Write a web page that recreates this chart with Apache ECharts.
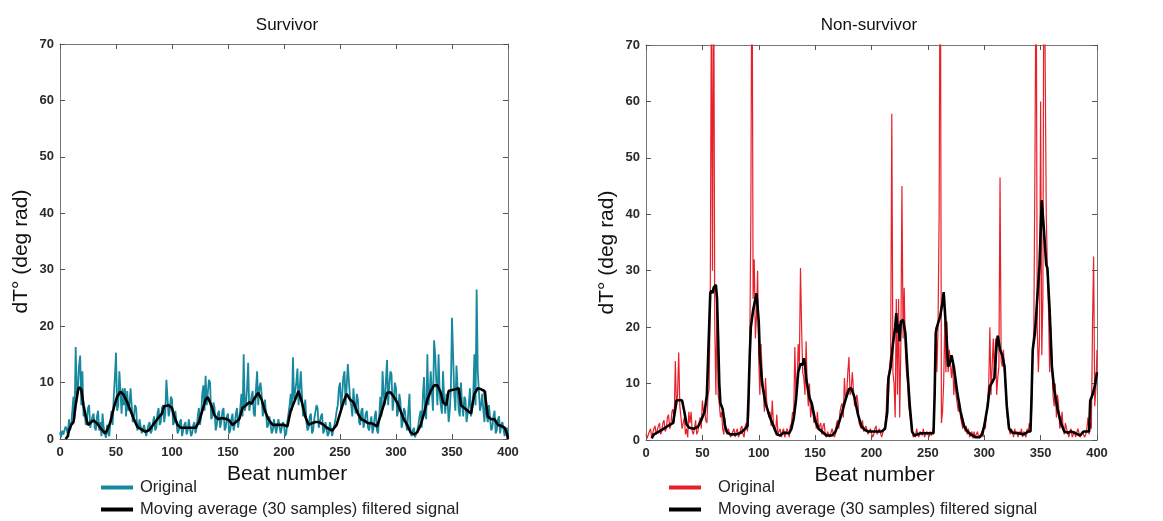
<!DOCTYPE html>
<html>
<head>
<meta charset="utf-8">
<script src="https://cdn.jsdelivr.net/npm/echarts@6/dist/echarts.min.js"></script>
<style>
html,body{margin:0;padding:0;background:#fff;}
#c{width:1163px;height:521px;}
</style>
</head>
<body>
<div id="c"></div>
<script>
// ---- Data ----
const xTicks = [0, 50, 100, 150, 200, 250, 300, 350, 400];
const yTicks = [0, 10, 20, 30, 40, 50, 60, 70];
const titles = ['Survivor', 'Non-survivor'];
const legendNames = ['Original', 'Moving average (30 samples) filtered signal'];

// Survivor - original signal, one value per beat (0..400)
const survOrig = [
  1.2, 0.3, 1.5, 0.8, 0.5, 2.2, 1.8, 0.6, 3.5, 1.5,
  2.5, 5, 7.5, 3.5, 16.3, 8, 9, 13, 14.8, 6,
  12, 4, 5, 2.5, 3.5, 5.5, 6, 2, 2, 4,
  4.5, 2, 1.5, 4, 5, 1.5, 3, 0.5, 4.5, 2,
  1, 0.2, 2.5, 1, 0.5, 3, 5, 2.5, 7.5, 11,
  15.3, 5, 6, 12, 12, 4.5, 9, 6, 9, 4,
  8.5, 5, 6, 9, 9, 3, 4, 6, 5.5, 1.5,
  2, 3.5, 3.5, 1, 1, 2.5, 2.5, 0.5, 0.5, 2.5,
  3, 1, 1.5, 3, 4, 1.5, 2, 4.5, 5.5, 2.5,
  3, 5.5, 6, 3, 4.5, 10.5, 10.5, 4, 5, 7.5,
  7, 2.5, 3, 5, 5, 1, 1.5, 3, 3.5, 0.5,
  0.5, 2.5, 3, 0.8, 1.5, 3.5, 3.5, 0.5, 1, 2.5,
  3, 1, 2, 4, 5.5, 2.5, 4, 8, 9.5, 5,
  11.2, 6, 6, 10.5, 10, 3.5, 4, 6.5, 5.5, 1.5,
  2.5, 4.5, 5, 2, 3, 5, 5.5, 1.5, 2, 4,
  4.5, 1, 1.5, 3.5, 4.5, 1.5, 2.5, 4.5, 5.5, 2,
  3.5, 5.5, 8, 4, 15, 5, 6, 9, 13.5, 5,
  5, 7.5, 8.5, 4.5, 4, 9, 12, 6, 9, 10,
  8, 4, 5, 7, 4.5, 2, 2.5, 4, 4, 1,
  1.5, 3.5, 3.5, 1, 1, 3.5, 3.5, 1, 2, 3,
  2.5, 0.5, 1, 3, 4.5, 6, 8, 5, 14.5, 7,
  7, 10, 12.5, 6, 9, 12, 12, 4, 5, 7,
  3, 1.5, 2, 4, 4.5, 1, 1.5, 3.5, 3.5, 6,
  5.5, 2, 2, 4, 4.5, 1, 1.5, 3, 3, 0.5,
  1, 3, 3, 0.5, 0.5, 2.5, 3.5, 5, 6, 9,
  10, 5, 8, 11, 12, 6, 9.5, 13.3, 13.3, 7,
  6, 4, 9, 6, 4.5, 8, 7, 3, 2.5, 5,
  5.5, 2, 3, 4.5, 5, 2, 1.5, 3, 4, 1,
  2, 4, 5, 1.5, 1, 4, 7.5, 4, 12, 8,
  6, 10.5, 14, 6, 9.5, 12, 11.5, 5, 7, 10,
  9, 4, 5, 8, 6.5, 2, 3, 5.5, 5, 2.5,
  1.5, 5, 8, 1, 0.5, 1.5, 2, 0.3, 0.5, 1.5,
  2.5, 4, 5, 2, 7.5, 11, 5, 3.5, 15, 6,
  8, 12, 12, 5, 17.5, 15, 10, 6, 15, 8,
  6, 4.5, 12, 7, 4.5, 8, 7, 3, 5, 9,
  21.5, 21.5, 8, 5, 13, 9, 5, 4, 10, 6,
  4, 7.5, 7, 3, 3, 6, 9, 4, 5.5, 8,
  15, 6, 26.5, 12, 12, 5, 6, 8, 5, 3,
  8.5, 4, 3, 6, 6, 1.5, 2, 4, 5, 1,
  1.5, 3.5, 4, 1, 2.5, 3, 3, 0.5, 1.5, 2,
  0.5
];

// Survivor - moving average (beat, value)
const survMaX = [5,7,8,10,12,14,16,17,19,21,23,25,28,30,33,36,40,42,45,48,51,54,57,60,63,66,69,72,76,79,82,85,88,91,93,97,100,102,105,108,112,118,121,124,127,130,132,135,138,141,144,148,151,154,157,160,163,166,169,171,173,177,180,183,186,190,195,200,203,206,210,213,216,219,222,225,228,231,234,237,240,243,247,250,253,256,259,262,264,266,269,272,275,278,281,283,286,289,292,295,298,301,304,307,310,313,316,319,322,325,328,331,334,337,340,342,345,347,350,353,356,358,361,364,367,370,373,376,379,382,385,388,391,394,397,399,400];
const survMaY = [0,0.5,1.5,2.5,3,6,8.5,9.2,8.8,6,4,2.5,3,3.3,2.8,2,1,1.5,3,5.5,7.5,8.4,7.8,6.5,5,3.5,2.2,1.8,1.3,1.5,2.2,3,3.8,4.5,5.8,6,5.5,4,2.5,2,2,2,2,3,5,7,7.4,6,4.2,3.5,3.7,3.6,3.3,2.5,3,3.5,5.5,6,6.5,6.2,7,8.2,7,5,3.5,2.5,2.5,2.5,2.2,5,7,8.5,6.5,4,2.5,2.8,3,3,2.7,2.2,1.8,1.5,2.5,4.5,6.5,8,7,6.5,5.5,4.5,3.5,3.2,2.8,2.8,2.5,2.2,4,6,8.2,8.3,7.5,6.5,5,3.5,2.5,1.2,0.8,1.2,2.5,4.5,7,8.5,9.5,9.5,8.2,6.5,6,8.5,8.7,8.8,9,6,5.5,5,4.5,8,9,8.8,8.5,4,3.5,3.5,2.5,2.3,2,1,0];

// Non-survivor - original signal, one value per beat (0..400); values above 70 run off the top
const nonOrig = [
  1, 0.3, 0.5, 1.5, 2, 0.5, 0.8, 2, 2.5, 1,
  1.2, 2.5, 3, 1, 1.5, 3, 3.5, 1.5, 2, 4,
  4.5, 2, 2.5, 5, 5.5, 3, 14, 6, 8, 15.5,
  6, 4, 2, 3, 4, 1, 2, 0.5, 5, 3,
  5, 1.5, 1, 2, 3.5, 1, 1.5, 3, 4, 2,
  7, 5, 5.5, 3.5, 3, 8, 9, 25, 80, 30,
  90, 20, 8, 26, 8, 6.5, 4, 5, 2, 1,
  4, 1.5, 1, 2, 2, 0.5, 0.5, 1.5, 2, 0.5,
  1.5, 2, 0.5, 1, 2, 2.5, 1, 0.5, 2.5, 3,
  1.5, 4, 15, 40, 95, 25, 32, 18, 22, 30,
  14, 8, 17, 12, 9, 5, 11, 7, 5, 4,
  5, 2.5, 7, 3, 3, 1.5, 4.5, 1, 1.5, 2,
  0.5, 1.5, 2, 0.5, 1, 2, 1.5, 0.5, 2.5, 3,
  5, 4, 16.5, 8, 10, 17, 13, 30.5, 20, 12,
  11, 8, 17.5, 9, 6, 10, 4, 6, 5, 3,
  4, 2, 5, 2, 2, 3, 1, 2.5, 3, 1,
  0.5, 1.5, 1.5, 0.5, 0.5, 2, 2, 0.5, 1, 3,
  3.5, 2, 5, 6, 6.5, 4, 11, 7, 8, 12,
  14.7, 8, 9, 12, 12, 6, 6, 8, 6.5, 3,
  3, 2, 3.5, 1.5, 1.5, 2.5, 2.5, 1, 1, 2,
  2, 0.5, 1, 2, 2.5, 1, 1.5, 2, 2, 0.5,
  0.5, 2, 2.5, 5, 10, 8, 13, 15, 57.8, 12,
  10, 4, 25, 8, 25, 4, 16, 45, 18, 27,
  16, 12, 10, 6, 6, 3, 2, 0.5, 1, 0.5,
  2, 1, 0.5, 1.5, 1.5, 0.8, 2, 0.5, 1, 1.5,
  1.5, 0.5, 1.5, 0.8, 0.5, 2, 8, 20, 12, 20,
  40, 100, 3, 5, 10, 21, 12, 21, 12, 16,
  16, 11, 14, 8, 11, 8, 6.5, 5, 6.5, 4,
  4, 2, 3, 1.5, 2.5, 1, 2, 0.5, 1, 1.5,
  0.3, 1.5, 0.5, 0.3, 1.5, 0.5, 0.3, 1, 1.5, 0.5,
  3, 2, 5, 7, 10, 20, 8, 13, 18, 11,
  18, 8, 11, 13, 46.5, 14, 13, 16, 12, 9,
  5, 3, 3, 1, 2, 1.5, 0.5, 2, 1, 1.5,
  0.5, 1.5, 1, 2, 0.5, 1.5, 1, 0.5, 2, 1.5,
  3, 2, 5, 15, 20, 50, 90, 20, 12, 18,
  60, 15, 25, 95, 95, 40, 30, 23, 12, 20,
  20, 8, 6, 10, 4, 8, 6, 2, 3, 5,
  2, 1, 3, 2, 2, 0.5, 1.5, 2, 0.5, 1,
  1.5, 0.5, 0.3, 2, 2, 0.5, 0.5, 1.5, 1.5, 0.5,
  1, 2, 4, 1, 3, 2, 20, 32.5, 6, 9,
  16
];

// Non-survivor - moving average (beat, value)
const nonMaX = [5,7,10,14,18,22,24,26,27,30,32,34,36,38,42,46,49,52,54,55,56,57,58,59,60,62,63,64,65,66,68,69,70,72,75,80,84,88,90,91,92,93,95,98,99,100,101,103,106,110,113,116,119,122,127,129,131,133,135,137,139,140,141,142,145,147,150,153,156,160,165,168,171,174,177,180,182,185,188,191,194,197,200,203,206,209,212,214,215,217,219,221,222,223,224,225,226,228,230,232,234,236,238,241,244,248,252,255,256,257,258,261,263,264,266,268,270,271,273,276,279,282,285,288,292,296,298,300,303,305,307,309,311,312,314,316,318,320,322,325,330,335,339,341,342,343,345,347,349,351,353,355,356,358,360,362,365,368,371,374,377,380,383,385,388,391,393,394,396,398,400];
const nonMaY = [0.3,1,1.3,1.8,2.3,2.8,3,5.5,7,7.1,7,5,2.8,2.2,2,2.3,3.5,5,8,14,20,26,26.5,26,27,27.5,25,18,10,6.5,5.5,4,2.5,1.3,1,1,1.3,2,2.5,8,15,20,23,26,26,21,15,10,6.5,4,2.5,1,0.8,1.3,1.2,2,3.8,7,12,13.5,13.3,14.5,13.5,11,7.5,6.5,3.5,2,1.5,0.8,0.8,1.5,3,5,7.2,9,9.2,7.5,4.5,2.5,1.8,1.5,1.5,1.5,1.5,1.5,2,5,11,13,17,20,22.5,19,20.5,17.5,21,21.3,19,12,6,1.5,0.8,1,1.2,1.2,1.2,1.2,8,19,20,22,24.5,26.2,20,13,14,15,13,8.5,5,2.5,1.5,1,0.5,0.5,1,2.5,6,9.5,10.2,11,17,18.5,16,15,13,6,2,1.3,1.2,1,1.5,1.5,8,16,19,25,31,42.5,37,31,30.5,23,13,9,5.5,3,1.5,1.3,1.5,1.3,1,0.8,1.5,1.5,1.5,7,8,9.5,12];

// ---- Build chart ----
const FONT = '"Liberation Sans", Arial, Helvetica, sans-serif';
const origColors = ['#17899f', '#e8202a'];
const grids = [
  {left: 60, right: 655, top: 44, bottom: 82},
  {left: 646, right: 66, top: 45, bottom: 81}
];
const tickStyle = {show: true, inside: true, length: 5, lineStyle: {color: '#555', width: 1}};
const lineStyleAxis = {show: true, onZero: false, lineStyle: {color: '#777', width: 1}};
const tickLabel = {fontSize: 13, fontWeight: 'bold', color: '#2a2a2a', fontFamily: FONT};

const xAxes = [], yAxes = [];
grids.forEach((g, gi) => {
  xAxes.push({
    type: 'value', gridIndex: gi, position: 'bottom', min: xTicks[0], max: xTicks[xTicks.length - 1],
    interval: xTicks[1] - xTicks[0],
    axisLine: lineStyleAxis, axisTick: tickStyle, splitLine: {show: false},
    axisLabel: Object.assign({margin: 7}, tickLabel),
    name: 'Beat number', nameLocation: 'middle', nameGap: 25,
    nameTextStyle: {fontSize: 21, color: '#111', fontFamily: FONT, padding: [0, 0, 0, 6]}
  });
  xAxes.push({
    type: 'value', gridIndex: gi, position: 'top', min: xTicks[0], max: xTicks[xTicks.length - 1],
    interval: xTicks[1] - xTicks[0],
    axisLine: lineStyleAxis, axisTick: tickStyle, splitLine: {show: false},
    axisLabel: {show: false}
  });
  yAxes.push({
    type: 'value', gridIndex: gi, position: 'left', min: yTicks[0], max: yTicks[yTicks.length - 1],
    interval: yTicks[1] - yTicks[0],
    axisLine: lineStyleAxis, axisTick: tickStyle, splitLine: {show: false},
    axisLabel: Object.assign({margin: 6}, tickLabel),
    name: 'dT° (deg rad)', nameLocation: 'middle', nameGap: 28, nameRotate: 90,
    nameTextStyle: {fontSize: 21, color: '#111', fontFamily: FONT, padding: [0, 20, 0, 0]}
  });
  yAxes.push({
    type: 'value', gridIndex: gi, position: 'right', min: yTicks[0], max: yTicks[yTicks.length - 1],
    interval: yTicks[1] - yTicks[0],
    axisLine: lineStyleAxis, axisTick: tickStyle, splitLine: {show: false},
    axisLabel: {show: false}
  });
});

const origSets = [survOrig, nonOrig];
const maSets = [[survMaX, survMaY], [nonMaX, nonMaY]];
const series = [];
[0, 1].forEach(gi => {
  series.push({
    type: 'line', name: legendNames[0], xAxisIndex: gi * 2, yAxisIndex: gi * 2,
    data: origSets[gi].map((v, i) => [i, v]),
    showSymbol: false, symbol: 'none', clip: true, animation: false,
    lineStyle: {color: origColors[gi], width: gi === 0 ? 1.8 : 1.2},
    itemStyle: {color: origColors[gi]}, z: 2
  });
  series.push({
    type: 'line', name: legendNames[1], xAxisIndex: gi * 2, yAxisIndex: gi * 2,
    data: maSets[gi][0].map((x, i) => [x, maSets[gi][1][i]]),
    showSymbol: false, symbol: 'none', clip: true, animation: false,
    lineStyle: {color: '#000', width: 2.6},
    itemStyle: {color: '#000'}, z: 3
  });
});

const legendLefts = [96, 664];
const legendTextPad = [2, 12];
const legendTops = [474, 496];
const legends = [];
[0, 1].forEach(gi => {
  [0, 1].forEach(k => {
    legends.push({
      left: legendLefts[gi], top: legendTops[k], itemWidth: 32, itemHeight: 4,
      selectedMode: false,
      textStyle: {fontSize: 16.5, color: '#222', fontFamily: FONT, padding: [0, 0, 0, legendTextPad[gi]]},
      data: [{name: legendNames[k], icon: 'rect', itemStyle: {color: k === 0 ? origColors[gi] : '#000'}}]
    });
  });
});

const titleCenters = [287, 869];
const graphics = titles.map((t, i) => ({
  type: 'text', x: titleCenters[i], y: 25, silent: true,
  style: {text: t, fill: '#111', font: '17px ' + FONT, textAlign: 'center', textVerticalAlign: 'middle'}
}));

const chart = echarts.init(document.getElementById('c'), null, {renderer: 'canvas'});
chart.setOption({
  animation: false,
  backgroundColor: '#fff',
  grid: grids,
  xAxis: xAxes,
  yAxis: yAxes,
  legend: legends,
  graphic: graphics,
  series: series
});
</script>
</body>
</html>
